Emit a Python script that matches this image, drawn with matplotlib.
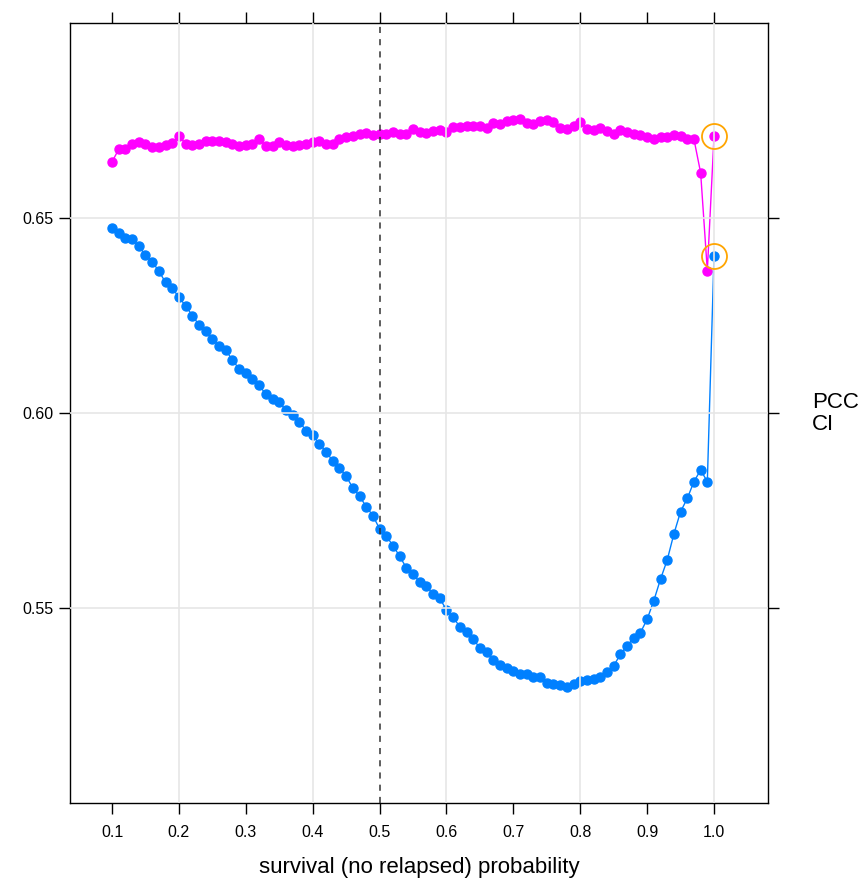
import matplotlib
matplotlib.use("Agg")
import matplotlib.pyplot as plt
import numpy as np

plt.rcParams["font.family"] = ["Liberation Sans", "DejaVu Sans"]

# ── Data ─────────────────────────────────────────────────────────────────────
prob = np.round(np.arange(0.10, 1.001, 0.01), 2)

pcc = [
    0.6644, 0.6676, 0.6676, 0.6690, 0.6695, 0.6689, 0.6683, 0.6683, 0.6688, 0.6693,
    0.6710, 0.6691, 0.6687, 0.6691, 0.6697, 0.6697, 0.6697, 0.6694, 0.6691, 0.6685,
    0.6688, 0.6689, 0.6702, 0.6685, 0.6685, 0.6696, 0.6687, 0.6685, 0.6687, 0.6690,
    0.6694, 0.6697, 0.6691, 0.6690, 0.6703, 0.6707, 0.6710, 0.6715, 0.6717, 0.6712,
    0.6715, 0.6715, 0.6721, 0.6715, 0.6715, 0.6727, 0.6721, 0.6719, 0.6723, 0.6725,
    0.6721, 0.6734, 0.6734, 0.6737, 0.6737, 0.6737, 0.6730, 0.6744, 0.6740, 0.6749,
    0.6752, 0.6753, 0.6744, 0.6741, 0.6749, 0.6750, 0.6745, 0.6732, 0.6728, 0.6736,
    0.6747, 0.6728, 0.6726, 0.6730, 0.6723, 0.6715, 0.6726, 0.6721, 0.6715, 0.6713,
    0.6707, 0.6702, 0.6707, 0.6707, 0.6713, 0.6709, 0.6703, 0.6702, 0.6616, 0.6365,
    0.6709,
]

ci = [
    0.6475, 0.6461, 0.6450, 0.6446, 0.6428, 0.6405, 0.6388, 0.6364, 0.6335, 0.6320,
    0.6297, 0.6275, 0.6250, 0.6226, 0.6210, 0.6189, 0.6173, 0.6161, 0.6136, 0.6113,
    0.6102, 0.6087, 0.6071, 0.6048, 0.6036, 0.6027, 0.6008, 0.5995, 0.5978, 0.5955,
    0.5943, 0.5921, 0.5901, 0.5877, 0.5860, 0.5838, 0.5808, 0.5787, 0.5760, 0.5737,
    0.5703, 0.5685, 0.5660, 0.5633, 0.5603, 0.5586, 0.5567, 0.5556, 0.5536, 0.5525,
    0.5495, 0.5476, 0.5452, 0.5439, 0.5421, 0.5397, 0.5386, 0.5367, 0.5353, 0.5345,
    0.5338, 0.5332, 0.5330, 0.5324, 0.5324, 0.5307, 0.5305, 0.5303, 0.5297, 0.5305,
    0.5313, 0.5315, 0.5317, 0.5324, 0.5337, 0.5352, 0.5381, 0.5403, 0.5424, 0.5437,
    0.5471, 0.5519, 0.5574, 0.5623, 0.5690, 0.5747, 0.5781, 0.5824, 0.5854, 0.5824,
    0.6403,
]

x_ticks = [0.1, 0.2, 0.3, 0.4, 0.5, 0.6, 0.7, 0.8, 0.9, 1.0]
y_ticks = [0.55, 0.60, 0.65]
cutoff = 0.5
legend_labels = ["PCC", "CI"]

# ── Figure ───────────────────────────────────────────────────────────────────
fig = plt.figure(figsize=(8.58, 8.81), dpi=100)
ax = fig.add_axes([0.0816, 0.0885, 0.8135, 0.8854])

ax.set_xlim(0.0372, 1.0807)
ax.set_ylim(0.50, 0.70)

# light grid drawn over the points, lattice style
for gx in [0.2, 0.4, 0.6, 0.8, 1.0]:
    ax.axvline(gx, color="#e6e6e6", lw=1.2, zorder=4)
for gy in y_ticks:
    ax.axhline(gy, color="#e6e6e6", lw=1.2, zorder=4)

ax.plot(prob, pcc, "-o", color="#ff00ff", ms=6.5, lw=1, zorder=2)
ax.plot(prob, ci, "-o", color="#0080ff", ms=6.5, lw=1, zorder=3)

# highlight the best point of each curve
ax.plot(prob[-1], pcc[-1], "o", ms=18, mfc="none", mec="orange", mew=1.3, zorder=5)
ax.plot(prob[-1], ci[-1], "o", ms=18, mfc="none", mec="orange", mew=1.3, zorder=5)

ax.axvline(cutoff, color="#333333", lw=1.1, ls=(0, (4, 4)), zorder=5)

ax.set_xticks(x_ticks)
ax.set_xticklabels([f"{v:.1f}" for v in x_ticks])
ax.set_yticks(y_ticks)
ax.set_yticklabels([f"{v:.2f}" for v in y_ticks])
ax.tick_params(axis="both", direction="out", length=8, width=1, labelsize=11.5,
               top=True, right=True, labeltop=False, labelright=False)
ax.tick_params(axis="x", pad=8)
ax.tick_params(axis="y", pad=4)
for spine in ax.spines.values():
    spine.set_linewidth(1)
    spine.set_color("black")

ax.set_xlabel("survival (no relapsed) probability", fontsize=16, labelpad=12)

fig.text(0.946, 0.543, legend_labels[0], fontsize=16, va="center", ha="left")
fig.text(0.946, 0.518, legend_labels[1], fontsize=16, va="center", ha="left")

fig.savefig("out.png", dpi=100, facecolor="white")
